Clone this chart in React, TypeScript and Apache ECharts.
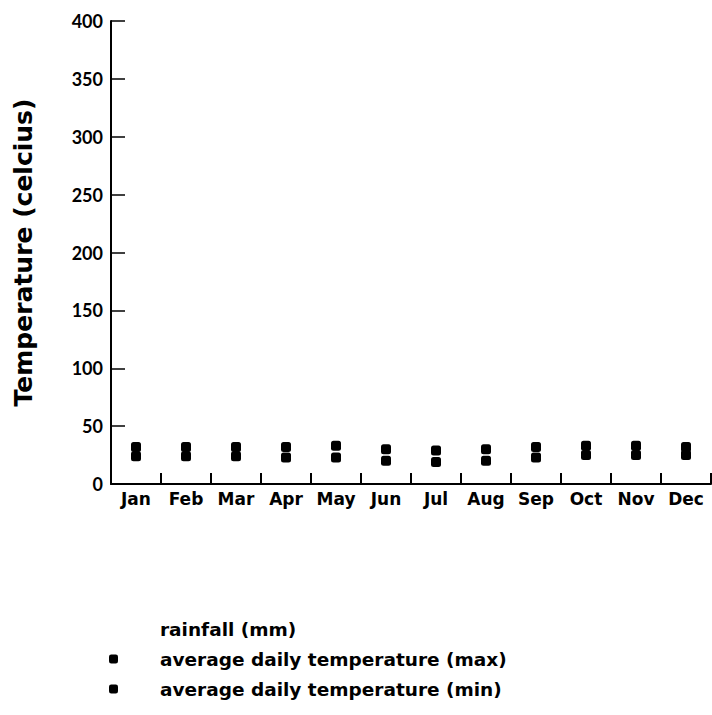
import React, { useEffect, useRef } from "react";
import * as echarts from "echarts";

const months = ["Jan", "Feb", "Mar", "Apr", "May", "Jun", "Jul", "Aug", "Sep", "Oct", "Nov", "Dec"];
const tempMax = [32, 32, 32, 32, 33, 30, 29, 30, 32, 33, 33, 32];
const tempMin = [24, 24, 24, 23, 23, 20, 19, 20, 23, 25, 25, 25];
const rainfall: (number | null)[] = [null, null, null, null, null, null, null, null, null, null, null, null];

const WIDE = "DejaVu Sans";
const NUM = "Lato";

export default function App() {
  const ref = useRef<HTMLDivElement>(null);
  useEffect(() => {
    if (!ref.current) return;
    const chart = echarts.init(ref.current, undefined, { renderer: "svg" });
    chart.setOption({
      animation: false,
      backgroundColor: "#ffffff",
      grid: { left: 111, top: 21, right: 1, bottom: 231, containLabel: false },
      xAxis: {
        type: "category",
        position: "bottom",
        data: months,
        boundaryGap: true,
        axisLine: { show: true, lineStyle: { color: "#000", width: 2 } },
        axisTick: { show: true, inside: false, length: -11, interval: 0, lineStyle: { color: "#000", width: 2 } },
        axisLabel: { interval: 0, color: "#000", fontFamily: WIDE, fontWeight: "bold", fontSize: 17, margin: 6 },
        splitLine: { show: false },
      },
      yAxis: {
        type: "value",
        min: 0,
        max: 400,
        interval: 50,
        name: "Temperature (celcius)",
        nameLocation: "middle",
        nameGap: 75,
        nameTextStyle: { color: "#000", fontFamily: WIDE, fontWeight: "bold", fontSize: 25 },
        axisLine: { show: true, lineStyle: { color: "#000", width: 2 } },
        axisTick: { show: true, inside: true, length: 14, lineStyle: { color: "#000", width: 1.5 } },
        axisLabel: { color: "#000", fontFamily: NUM, fontWeight: "bold", fontSize: 18, margin: 8 },
        splitLine: { show: false },
      },
      legend: {
        orient: "vertical",
        left: 104,
        top: 614,
        itemWidth: 9,
        itemHeight: 9,
        itemGap: 10,
        textStyle: { color: "#000", fontFamily: WIDE, fontWeight: "bold", fontSize: 18.5, padding: [0, 0, 0, 37], lineHeight: 20 },
        data: [
          { name: "rainfall (mm)", icon: "rect", itemStyle: { color: "transparent", opacity: 0 } },
          { name: "average daily temperature (max)", icon: "roundRect", itemStyle: { color: "#000", opacity: 1 } },
          { name: "average daily temperature (min)", icon: "roundRect", itemStyle: { color: "#000", opacity: 1 } },
        ],
      },
      series: [
        {
          name: "rainfall (mm)",
          type: "bar",
          data: rainfall,
          itemStyle: { color: "#e6e6e6" },
        },
        {
          name: "average daily temperature (max)",
          type: "scatter",
          data: tempMax,
          symbol: "roundRect",
          symbolSize: [10, 10],
          itemStyle: { color: "#000", opacity: 1 },
        },
        {
          name: "average daily temperature (min)",
          type: "scatter",
          data: tempMin,
          symbol: "roundRect",
          symbolSize: [10, 10],
          itemStyle: { color: "#000", opacity: 1 },
        },
      ],
    });
    return () => chart.dispose();
  }, []);
  return (
    <div
      ref={ref}
      style={{ position: "absolute", left: 0, top: 0, width: 712, height: 715 }}
    />
  );
}
